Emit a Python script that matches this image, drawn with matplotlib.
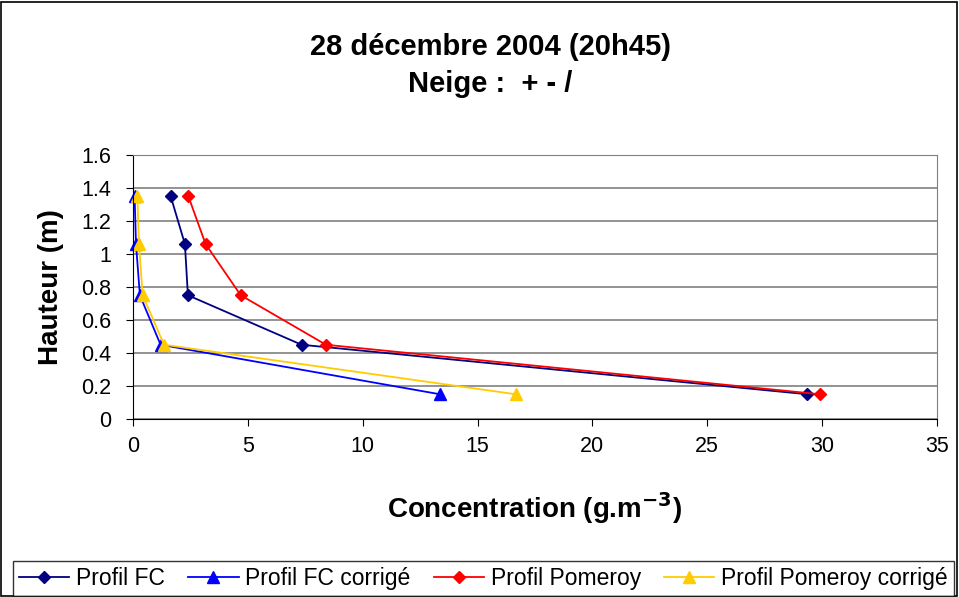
import matplotlib
matplotlib.use("Agg")
import matplotlib.pyplot as plt
from matplotlib.patches import Rectangle

plt.rcParams['font.family'] = ['Liberation Sans', 'DejaVu Sans']

hauteur = [1.35, 1.06, 0.75, 0.45, 0.15]
profil_fc = [1.64, 2.26, 2.39, 7.34, 29.35]
profil_fc_corrige = [0.07, 0.13, 0.30, 1.20, 13.36]
profil_pomeroy = [2.41, 3.16, 4.69, 8.40, 29.9]
profil_pomeroy_corrige = [0.19, 0.26, 0.42, 1.35, 16.66]

series = [
    ("Profil FC", profil_fc, "#000080", "D"),
    ("Profil FC corrigé", profil_fc_corrige, "#0000FF", "^"),
    ("Profil Pomeroy", profil_pomeroy, "#FF0000", "D"),
    ("Profil Pomeroy corrigé", profil_pomeroy_corrige, "#FFCC00", "^"),
]

W, H = 959, 597
fig = plt.figure(figsize=(W / 100, H / 100), dpi=100)
ax = fig.add_axes([133 / W, 1 - 419 / H, (937 - 133) / W, (419 - 155) / H])

for label, xs, color, marker in series:
    ms = 6 if marker == "D" else 8
    ax.plot(xs, hauteur, color=color, marker=marker, markersize=ms,
            linewidth=1.3, label=label, clip_on=False)

ax.set_xlim(0, 35)
ax.set_ylim(0, 1.6)
ax.set_xticks(range(0, 36, 5))
ax.set_yticks([i * 0.2 for i in range(9)])
ax.set_yticklabels(["0", "0.2", "0.4", "0.6", "0.8", "1", "1.2", "1.4", "1.6"])
ax.grid(axis='y', color='#808080', linewidth=1.2)
ax.set_axisbelow(True)
ax.tick_params(axis='both', labelsize=15.5, length=5, direction='out', color='black')
ax.tick_params(axis='x', pad=7)
ax.tick_params(axis='y', pad=11)
for side in ('top', 'right'):
    ax.spines[side].set_color('#808080')
for side in ('left', 'bottom'):
    ax.spines[side].set_color('black')

ax.set_xlabel("Concentration (g.m$^{\\mathbf{-3}}$)", fontsize=20, fontweight='bold', labelpad=24)
ax.set_ylabel("Hauteur (m)", fontsize=20, fontweight='bold', labelpad=12)

fig.text(490 / W, 1 - 47 / H, "28 décembre 2004 (20h45)", ha='center', va='center',
         fontsize=21, fontweight='bold')
fig.text(490 / W, 1 - 84 / H, "Neige :  + - /", ha='center', va='center',
         fontsize=21, fontweight='bold')

# outer frame of the chart
fig.patches.append(Rectangle((1 / W, 1 / H), (W - 3) / W, (H - 3) / H, transform=fig.transFigure,
                             fill=False, edgecolor='black', linewidth=1.2))

leg = fig.legend(loc='center', bbox_to_anchor=(483.5 / W, 1 - 578.5 / H),
                 ncol=4, fontsize=16.5, frameon=True, fancybox=False,
                 edgecolor='black', handlelength=2.2, handletextpad=0.3, borderpad=0.25,
                 columnspacing=1.0)
leg.get_frame().set_linewidth(1.0)

fig.savefig("out.png", dpi=100)
